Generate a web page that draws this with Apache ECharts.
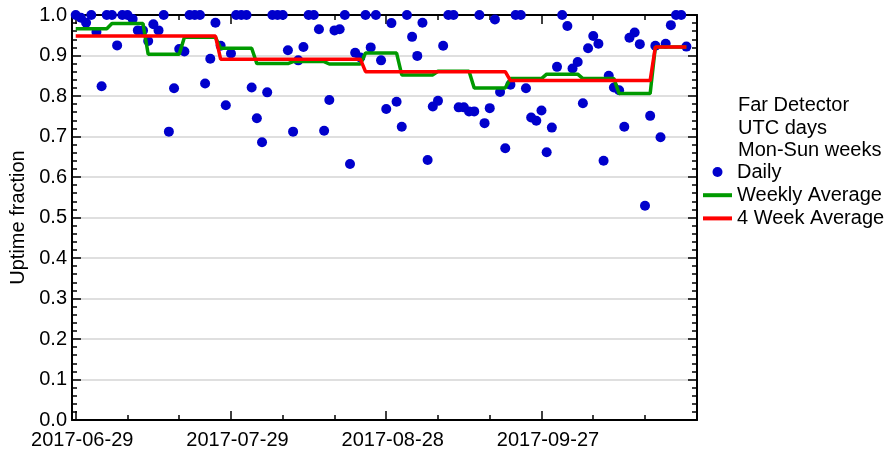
<!DOCTYPE html>
<html>
<head>
<meta charset="utf-8">
<script src="https://cdn.jsdelivr.net/npm/echarts@6/dist/echarts.min.js"></script>
<style>
  html, body { margin: 0; padding: 0; background: #fff; }
  #chart { width: 895px; height: 450px; }
</style>
</head>
<body>
<div id="chart"></div>
<script>
// day 0 = 2017-06-29
const startDay = Date.UTC(2017, 5, 29)

// daily uptime fraction, one value per day
const daily = [
  1.0, 0.993, 0.981, 1.0, 0.958, 0.824, 1.0,
  1.0, 0.925, 1.0, 1.0, 0.99, 0.962, 0.962,
  0.936, 0.977, 0.962, 1.0, 0.712, 0.819, 0.916,
  0.91, 1.0, 1.0, 1.0, 0.831, 0.892, 0.981,
  0.924, 0.777, 0.905, 1.0, 1.0, 1.0, 0.821,
  0.745, 0.686, 0.809, 1.0, 1.0, 1.0, 0.913,
  0.712, 0.888, 0.921, 1.0, 1.0, 0.965, 0.714,
  0.79, 0.962, 0.965, 1.0, 0.632, 0.907, 0.895,
  1.0, 0.92, 1.0, 0.888, 0.768, 0.98, 0.786,
  0.724, 1.0, 0.946, 0.899, 0.981, 0.642, 0.774,
  0.788, 0.924, 1.0, 1.0, 0.772, 0.772, 0.762,
  0.762, 1.0, 0.733, 0.77, 0.989, 0.81, 0.671,
  0.828, 1.0, 1.0, 0.819, 0.747, 0.739, 0.764,
  0.661, 0.722, 0.872, 1.0, 0.973, 0.868, 0.884,
  0.782, 0.918, 0.948, 0.929, 0.64, 0.85, 0.821,
  0.814, 0.724, 0.944, 0.957, 0.928, 0.529, 0.751,
  0.924, 0.698, 0.929, 0.975, 1.0, 1.0, 0.922
]

// 7 day blocks
const weekly = [0.966, 0.979, 0.903, 0.945, 0.918, 0.880, 0.885, 0.879, 0.906,
  0.852, 0.861, 0.820, 0.843, 0.854, 0.843, 0.806, 0.921]

// 28 day blocks
const fourWeek = [0.948, 0.891, 0.860, 0.838, 0.921]

const majorTicks = [0, 30, 60, 90]
const minorTicks = [10, 20, 40, 50, 70, 80, 100, 110]
const xMin = -0.72
const xMax = 120.05

const dailyPoints = daily.map((v, i) => [i, v])

// step line: hold each block's value from its first to its last day
const blockLine = (vals, len) => {
  const pts = []
  vals.forEach((v, i) => {
    const a = i * len
    const b = Math.min(a + len - 1, daily.length - 1)
    pts.push([a, v], [b, v])
  })
  return pts
}

const dateLabel = v => new Date(startDay + v * 86400000).toISOString().slice(0, 10)

const font = 'Liberation Sans, Arial, sans-serif'
const black = '#000'
const lineIcon = 'path://M0,0H29V4H0Z'

const xBase = (pos, ticks, len, withLine, withLabel) => ({
  type: 'value',
  position: pos,
  min: xMin,
  max: xMax,
  axisLine: { show: withLine, onZero: false, lineStyle: { color: black, width: 2 } },
  axisTick: { show: true, inside: true, length: len, customValues: ticks, lineStyle: { color: black, width: 1.5 } },
  axisLabel: withLabel
    ? { show: true, customValues: ticks, formatter: dateLabel, color: black, fontSize: 20, fontFamily: font, margin: 10, padding: [0, 0, 0, 13] }
    : { show: false },
  splitLine: { show: false }
})

const yBase = (pos, withLabel) => ({
  type: 'value',
  position: pos,
  min: 0,
  max: 1,
  interval: 0.1,
  axisLine: { show: true, onZero: false, lineStyle: { color: black, width: 2 } },
  axisTick: { show: true, inside: true, length: 9, lineStyle: { color: black, width: 1.5 } },
  minorTick: { show: true, splitNumber: 5, length: 5, lineStyle: { color: black, width: 1.5 } },
  axisLabel: withLabel
    ? { show: true, formatter: v => v.toFixed(1), color: black, fontSize: 20, fontFamily: font, margin: 5, padding: [3, 0, 0, 0] }
    : { show: false },
  splitLine: withLabel ? { show: true, lineStyle: { color: '#d4d4d4', width: 1.5 } } : { show: false },
  name: withLabel ? 'Uptime fraction' : '',
  nameLocation: 'middle',
  nameGap: 43,
  nameTextStyle: { color: black, fontSize: 20, fontFamily: font }
})

const chart = echarts.init(document.getElementById('chart'))
chart.setOption({
  animation: false,
  grid: { left: 72, right: 198, top: 15, bottom: 29 },
  xAxis: [
    xBase('bottom', majorTicks, 9, true, true),
    xBase('bottom', minorTicks, 5, false, false),
    xBase('top', majorTicks, 9, true, false),
    xBase('top', minorTicks, 5, false, false)
  ],
  yAxis: [yBase('left', true), yBase('right', false)],
  legend: {
    orient: 'vertical',
    left: 703,
    top: 161,
    padding: 0,
    itemWidth: 29,
    itemHeight: 10,
    itemGap: 1.2,
    textStyle: { color: black, fontSize: 20, fontFamily: font, lineHeight: 22 },
    data: [
      { name: 'Daily', icon: 'circle' },
      { name: 'Weekly Average', icon: lineIcon },
      { name: '4 Week Average', icon: lineIcon }
    ]
  },
  graphic: [
    { type: 'text', left: 738, top: 95, style: { text: 'Far Detector', fill: black, font: '20px ' + font } },
    { type: 'text', left: 738, top: 118, style: { text: 'UTC days', fill: black, font: '20px ' + font } },
    { type: 'text', left: 738, top: 140, style: { text: 'Mon-Sun weeks', fill: black, font: '20px ' + font } }
  ],
  series: [
    {
      name: 'Daily',
      type: 'scatter',
      data: dailyPoints,
      symbolSize: 10,
      itemStyle: { color: '#0000cc', opacity: 1 },
      z: 2
    },
    {
      name: 'Weekly Average',
      type: 'line',
      data: blockLine(weekly, 7),
      symbol: 'none',
      showSymbol: false,
      lineStyle: { color: '#009a00', width: 3.5 },
      itemStyle: { color: '#009a00' },
      z: 3
    },
    {
      name: '4 Week Average',
      type: 'line',
      data: blockLine(fourWeek, 28),
      symbol: 'none',
      showSymbol: false,
      lineStyle: { color: '#ff0000', width: 3.5 },
      itemStyle: { color: '#ff0000' },
      z: 4
    }
  ]
})
</script>
</body>
</html>
